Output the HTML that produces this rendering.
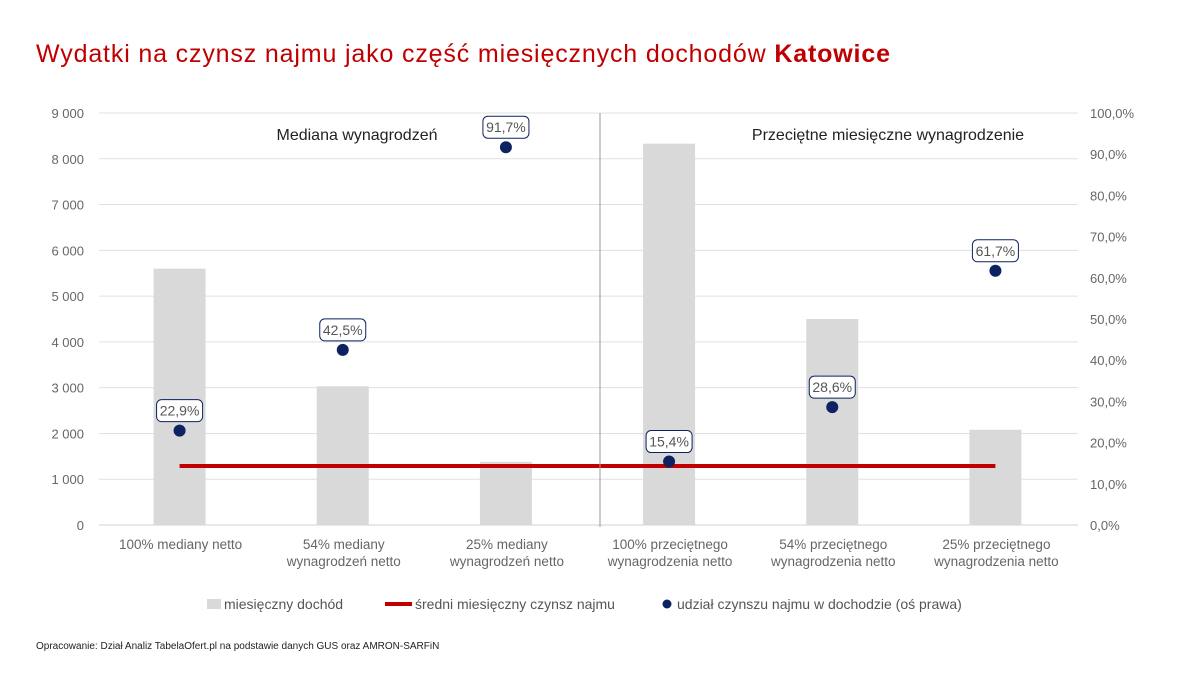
<!DOCTYPE html>
<html><head><meta charset="utf-8"><style>
body{margin:0;background:#fff;font-family:"Liberation Sans",sans-serif;}
</style></head><body>
<svg id="chart" width="1200" height="675" xmlns="http://www.w3.org/2000/svg" font-family="Liberation Sans, sans-serif">
<text x="36" y="62" font-size="25" fill="#c00000" textLength="854" lengthAdjust="spacing">Wydatki na czynsz najmu jako część miesięcznych dochodów <tspan font-weight="bold">Katowice</tspan></text>
<g id="grid"></g><g id="bars"></g><g id="line"></g><g id="points"></g><g id="axes"></g>
<line x1="600" y1="113" x2="600" y2="527" stroke="#999" stroke-width="1"/>
<text x="357" y="140" font-size="16" fill="#222" text-anchor="middle">Mediana wynagrodzeń</text>
<text x="888" y="140" font-size="16" fill="#222" text-anchor="middle">Przeciętne miesięczne wynagrodzenie</text>
<g font-size="14" fill="#555">
<rect x="207" y="599" width="14" height="10" fill="#d9d9d9"/>
<text x="224" y="609">miesięczny dochód</text>
<line x1="385" y1="604" x2="412" y2="604" stroke="#c00000" stroke-width="4"/>
<text x="415" y="609">średni miesięczny czynsz najmu</text>
<circle cx="667" cy="604" r="4.5" fill="#0d2260"/>
<text x="677" y="609">udział czynszu najmu w dochodzie (oś prawa)</text>
</g>
<text x="36" y="649" font-size="10" fill="#222">Opracowanie: Dział Analiz TabelaOfert.pl na podstawie danych GUS oraz AMRON-SARFiN</text>
</svg>
<script>
const categories=[["100% mediany netto"],["54% mediany","wynagrodzeń netto"],["25% mediany","wynagrodzeń netto"],["100% przeciętnego","wynagrodzenia netto"],["54% przeciętnego","wynagrodzenia netto"],["25% przeciętnego","wynagrodzenia netto"]];
const income=[5600,3030,1380,8330,4500,2080];
const rent=[1290,1290,1290,1290,1290,1290];
const share=[22.9,42.5,91.7,15.4,28.6,61.7];
const leftTicks=["0","1 000","2 000","3 000","4 000","5 000","6 000","7 000","8 000","9 000"];
const rightTicks=["0,0%","10,0%","20,0%","30,0%","40,0%","50,0%","60,0%","70,0%","80,0%","90,0%","100,0%"];
const NS="http://www.w3.org/2000/svg";
const X0=99,X1=1078,Y0=525,Y1=113;
const yL=v=>Y0-(Y0-Y1)*v/9000;
const yR=v=>Y0-(Y0-Y1)*v/100;
const step=(X1-X0)/categories.length;
const xC=i=>X0+step*(i+0.5)-1;
function mk(tag,attrs,parent,txt){const e=document.createElementNS(NS,tag);for(const k in attrs)e.setAttribute(k,attrs[k]);if(txt!==undefined)e.textContent=txt;document.getElementById(parent).appendChild(e);return e;}
leftTicks.forEach((t,i)=>{const y=yL(i*1000);
const l=mk("line",{x1:X0,x2:X1,y1:y,y2:y,stroke:i?"#e0e0e0":"#d0d0d0","stroke-width":1},"grid");


const tx=mk("text",{x:84,y:y+5,"font-size":13,fill:"#666","text-anchor":"end"},"axes",t);

});
rightTicks.forEach((t,i)=>{const tx=mk("text",{x:1090,y:yR(i*10)+5,"font-size":13,fill:"#666"},"axes",t);

});
categories.forEach((c,i)=>{c.forEach((s,j)=>{const tx=mk("text",{x:xC(i)+1,y:549+j*17,"font-size":13.5,fill:"#666","text-anchor":"middle"},"axes",s);

});});
income.forEach((v,i)=>{const r=mk("rect",{x:xC(i)-26,y:yL(v),width:52,height:Y0-yL(v),fill:"#d9d9d9"},"bars");

});
const pl=mk("polyline",{points:rent.map((v,i)=>xC(i)+","+yL(v)).join(" "),fill:"none",stroke:"#c00000","stroke-width":4},"line");


share.forEach((v,i)=>{const cx=xC(i),cy=yR(v);
const c=mk("circle",{cx:cx,cy:cy,r:6,fill:"#0d2260"},"points");


const lab=String(v.toFixed(1)).replace(".",",")+"%";
const b=mk("rect",{x:cx-23,y:cy-31,width:46,height:22,rx:5,fill:"#fff",stroke:"#0d2260","stroke-width":1},"points");


const t=mk("text",{x:cx,y:cy-15,"font-size":14,fill:"#555","text-anchor":"middle"},"points",lab);

});
</script>
</body></html>
